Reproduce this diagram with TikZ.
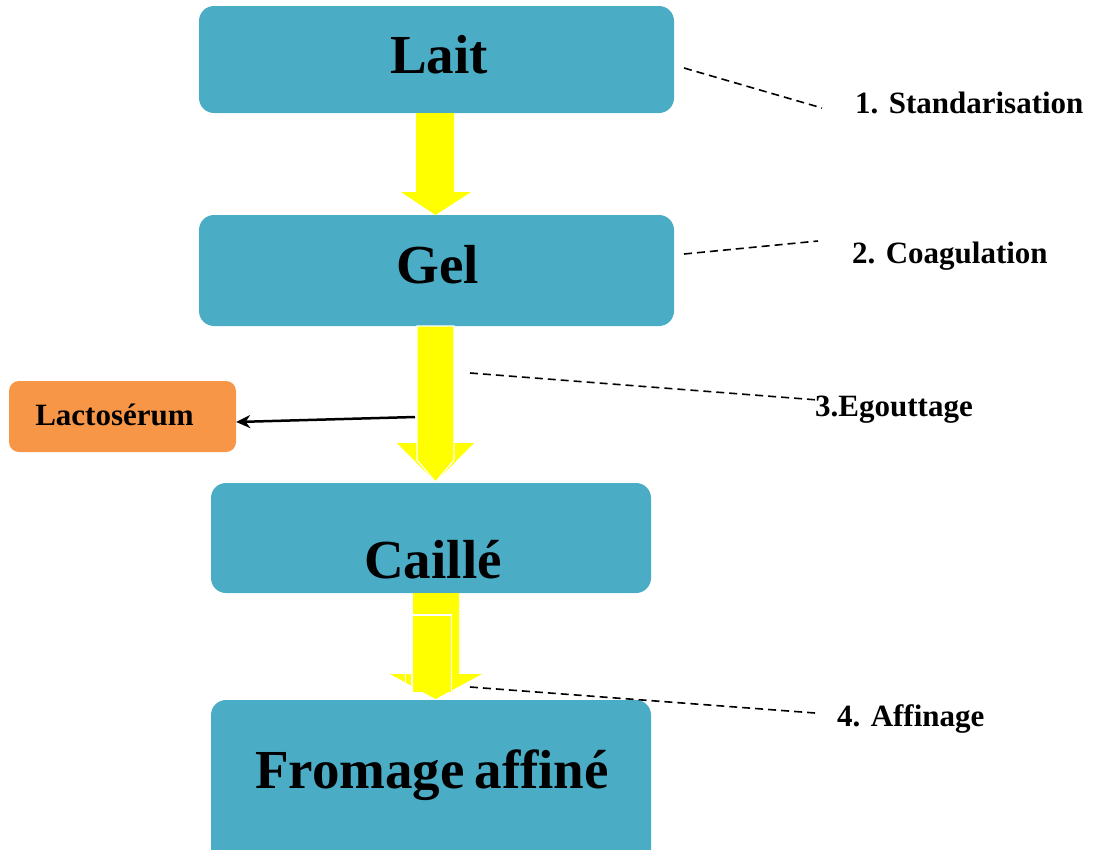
\documentclass[tikz,border=0pt]{standalone}
\usepackage{fontspec}
\setmainfont{Liberation Serif}
\usetikzlibrary{arrows.meta}
\definecolor{boxblue}{HTML}{4BACC6}
\definecolor{boxorange}{HTML}{F79646}
\definecolor{arrowyellow}{HTML}{FFFF00}
\tikzset{
  stagebox/.style={fill=boxblue, draw=none, rounded corners=15pt, inner sep=0pt},
  wheybox/.style={fill=boxorange, draw=none, rounded corners=10pt, inner sep=0pt,
    minimum width=227pt, minimum height=71pt},
  bigtext/.style={font=\bfseries\fontsize{55}{55}\selectfont, inner sep=0pt},
  steplabel/.style={font=\bfseries\fontsize{31}{31}\selectfont, inner sep=0pt, anchor=west},
  leader/.style={line width=1.6pt, dash pattern=on 8pt off 5pt},
  flow/.style={fill=arrowyellow, draw=none},
  flowedge/.style={fill=arrowyellow, draw=white, line width=1.2pt},
}
\begin{document}
\begin{tikzpicture}[x=1pt,y=-1pt]
\useasboundingbox (0,0) rectangle (1094,849);
\clip (0,0) rectangle (1094,849);
% boxes
\node[stagebox, minimum width=475pt, minimum height=107pt] (lait) at (436.5,59.5) {};
\node[bigtext] (laitt) at (439,55) {Lait};
\node[stagebox, minimum width=475pt, minimum height=111pt] (gel) at (436.5,270.5) {};
\node[bigtext] (gelt) at (438,265) {Gel};
\node[stagebox, minimum width=440pt, minimum height=110pt] (caille) at (431,538) {};
\node[bigtext] (caillet) at (433,560) {Caillé};
\node[stagebox, minimum width=440pt, minimum height=180pt] (fromage) at (431,790) {};
\node[bigtext] (fromaget) at (432,775) {Fromage\hspace{-4pt} affiné};
\node[wheybox] (lacto) at (122.5,416.5) {};
\node[font=\bfseries\fontsize{31}{31}\selectfont, inner sep=0pt] (lactot) at (114.5,415) {Lactosérum};
% arrow 1
\fill[flow] (416,113) -- (454,113) -- (454,192) -- (471,192) -- (435.5,215) -- (401,192) -- (416,192) -- cycle;
% arrow 2
\fill[flow] (397,443) -- (474,443) -- (435.5,482) -- cycle;
\draw[flowedge] (417,326) -- (454,326) -- (454,460) -- (435.5,482) -- (417,460) -- cycle;
% arrow 3
\fill[flow] (413,593) -- (459,593) -- (459,674) -- (482,674) -- (435.5,699) -- (390,674) -- (413,674) -- cycle;
\draw[flowedge] (412,692) -- (412,615) -- (451.5,615) -- (451.5,692);
\draw[white, line width=1pt] (405,674) -- (405,686);
% lactoserum arrow
\coordinate (drain) at (415,417);
\draw[line width=2.5pt, -{Stealth[length=14pt,width=13pt]}] (drain) -- ([yshift=-5.5pt]lacto.east);
% step labels
\node[steplabel] (s1) at (855,103) {1. Standarisation};
\node[steplabel] (s2) at (852,256) {2. Coagulation};
\node[steplabel] (s3) at (815,410) {3.Egouttage};
\node[steplabel] (s4) at (837,719) {4. Affinage};
\coordinate (d1a) at (684,68); \coordinate (d1b) at (822,108);
\coordinate (d2a) at (684,254); \coordinate (d2b) at (818,241);
\coordinate (d3a) at (470,373); \coordinate (d3b) at (818,400);
\coordinate (d4a) at (470,687); \coordinate (d4b) at (815,713);
\draw[leader] (d1a) -- (d1b);
\draw[leader] (d2a) -- (d2b);
\draw[leader] (d3a) -- (d3b);
\draw[leader] (d4a) -- (d4b);
\end{tikzpicture}
\end{document}
